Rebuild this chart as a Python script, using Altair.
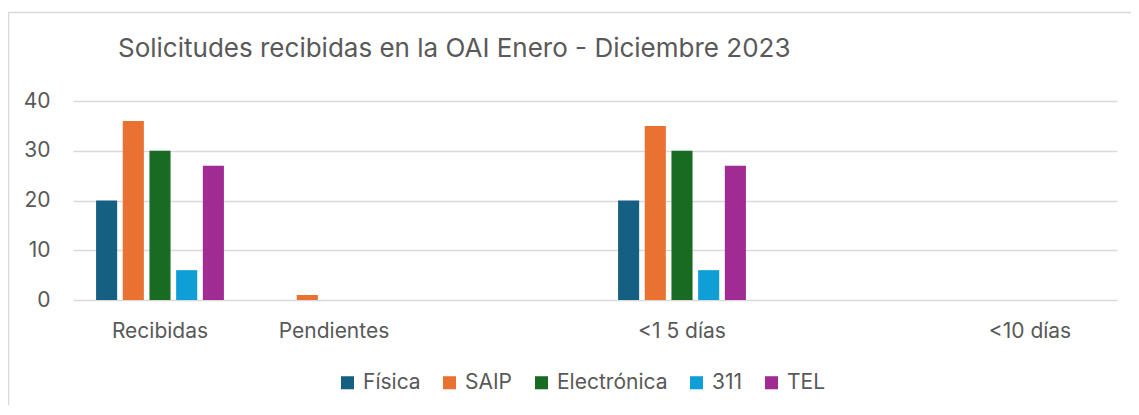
import altair as alt
import pandas as pd

categories = ["Recibidas", "Pendientes", " ", "<1 5 días", "  ", "<10 días"]
series = ["Física", "SAIP", "Electrónica", "311", "TEL"]
colors = ["#156082", "#E97132", "#196B24", "#0F9ED5", "#A02B93"]

fisica = [20, 0, 20, 0]
saip = [36, 1, 35, 0]
electronica = [30, 0, 30, 0]
tres11 = [6, 0, 6, 0]
tel = [27, 0, 27, 0]
data_cats = ["Recibidas", "Pendientes", "<1 5 días", "<10 días"]

rows = []
for name, vals in zip(series, [fisica, saip, electronica, tres11, tel]):
    for c, v in zip(data_cats, vals):
        rows.append({"cat": c, "serie": name, "valor": v})
df = pd.DataFrame(rows)

FONT = "Inter"
TXT = "#595959"
GRID = "#d9d9d9"

bars = alt.Chart(df).mark_bar(strokeWidth=0).encode(
    x=alt.X("cat:N", sort=categories,
            scale=alt.Scale(domain=categories, paddingInner=0.233, paddingOuter=0.1165),
            axis=alt.Axis(title=None, labelAngle=0, ticks=False, domain=False,
                          labelFontSize=21, labelColor=TXT, labelFont=FONT,
                          labelPadding=20)),
    xOffset=alt.XOffset("serie:N", sort=series,
                        scale=alt.Scale(domain=series, paddingInner=0.21, paddingOuter=0.105)),
    y=alt.Y("valor:Q", scale=alt.Scale(domain=[0, 40]),
            axis=alt.Axis(title=None, values=[0, 10, 20, 30, 40], ticks=False, domain=False,
                          grid=True, gridColor=GRID, gridWidth=1.5,
                          labelFontSize=21, labelColor=TXT, labelFont=FONT,
                          labelPadding=23)),
    color=alt.Color("serie:N", sort=series,
                    scale=alt.Scale(domain=series, range=colors),
                    legend=alt.Legend(title=None, orient="none", direction="horizontal",
                                      legendX=264, legendY=271,
                                      symbolType="square", symbolSize=170,
                                      symbolStrokeWidth=0, labelFontSize=21,
                                      labelColor=TXT, labelFont=FONT,
                                      columnPadding=18, labelOffset=5)),
)

frame = alt.Chart(pd.DataFrame({"a": [0]})).mark_rect(
    fill=None, stroke=GRID, strokeWidth=1.5, clip=False
).encode(
    x=alt.value(-64.5), x2=alt.value(1200),
    y=alt.value(-88.5), y2=alt.value(400),
)

chart = alt.layer(frame, bars).properties(
    width=1044, height=199,
    padding={"left": 65, "top": 93, "right": 14, "bottom": 105},
    autosize=alt.AutoSizeParams(type="none"),
    title=alt.Title("Solicitudes recibidas en la OAI Enero - Diciembre 2023",
                    anchor="start", frame="group", dx=45, dy=54,
                    fontSize=26, font=FONT, color=TXT, fontWeight="normal"),
).configure_view(stroke=None)

chart.save("out.html", embed_options={"renderer": "svg", "actions": False})
